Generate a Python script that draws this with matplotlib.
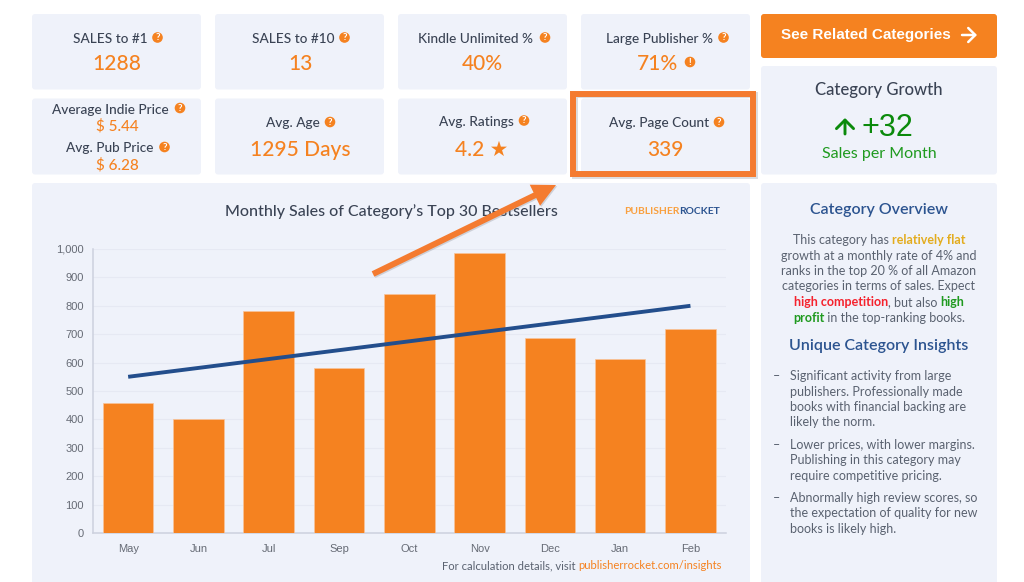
import matplotlib
matplotlib.use('Agg')
import matplotlib.pyplot as plt
from matplotlib.patches import Circle, FancyArrowPatch, FancyBboxPatch, Rectangle

plt.rcParams['font.family'] = ['Lato', 'DejaVu Sans']

months = ['May', 'Jun', 'Jul', 'Sep', 'Oct', 'Nov', 'Dec', 'Jan', 'Feb']
sales = [457, 402, 783, 580, 842, 985, 686, 611, 720]
trend_pos = [0, 8]
trend_sales = [550, 800]
y_ticks = [0, 100, 200, 300, 400, 500, 600, 700, 800, 900, 1000]

ORANGE = '#F58220'
HILITE = '#F47B30'
CARD = '#EFF2FA'
DARK = '#3A4354'
GRAY = '#5A6270'
BLUE = '#2C5490'
NAVY = '#234E8C'
GREEN = '#1F9A1F'

fig = plt.figure(figsize=(10.24, 5.82), dpi=100, facecolor='white')
bg = fig.add_axes([0, 0, 1, 1], zorder=0)
bg.set_xlim(0, 1024)
bg.set_ylim(582, 0)
bg.axis('off')
top = fig.add_axes([0, 0, 1, 1], zorder=2)
top.set_xlim(0, 1024)
top.set_ylim(582, 0)
top.axis('off')
renderer = fig.canvas.get_renderer()


def card(x0, y0, x1, y1, color=CARD):
    bg.add_patch(FancyBboxPatch((x0 + 3, y0 + 3), x1 - x0 - 6, y1 - y0 - 6,
                                boxstyle='round,pad=3,rounding_size=3', fc=color, ec='none'))


def icon(x, y, mark='?'):
    bg.add_patch(Circle((x, y), 5.3, fc=ORANGE, ec='none', zorder=3))
    bg.text(x, y + 0.3, mark, color='white', fontsize=7, fontweight='bold',
            ha='center', va='center', zorder=4)


def label(x, y, s):
    bg.text(x, y + 1, s, color=DARK, fontsize=9.8, fontweight='medium', ha='center', va='center')


def value(x, y, s, size=15):
    bg.text(x, y + 1.5, s, color=ORANGE, fontsize=size, fontweight='medium', ha='center', va='center')


def seg_width(s, **kw):
    a = bg.text(0, 0, '.' + s + '.', **kw)
    b = bg.text(0, 0, '..', **kw)
    w = a.get_window_extent(renderer).width - b.get_window_extent(renderer).width
    a.remove()
    b.remove()
    return w


def mixed_line(y, segments, size=9, center=None, right=None, **kw):
    # segments are (text, colour, weight); centred or right aligned as a whole
    widths = [seg_width(s, fontsize=size, fontweight=w, **kw) for s, c, w in segments]
    if center is not None:
        x = center - sum(widths) / 2
    else:
        x = right - sum(widths)
    for (s, c, w), width in zip(segments, widths):
        bg.text(x, y + 1, s, color=c, fontsize=size, fontweight=w, ha='left', va='center', **kw)
        x += width


# stat cards
for x0, x1 in [(32, 201), (215, 384), (398, 567), (581, 750)]:
    card(x0, 14, x1, 89.5)
    card(x0, 98.5, x1, 174.5)
card(761, 66, 997, 174.5)
card(32, 183, 750, 590)
card(761, 183, 997, 590)
card(761, 14, 997, 58, color=ORANGE)

label(110, 38, 'SALES to #1')
value(117, 63, '1288')
icon(157.5, 37.5)
label(293, 38, 'SALES to #10')
value(300, 63, '13')
icon(344.5, 37.5)
label(476, 38, 'Kindle Unlimited %')
value(482, 63, '40%')
icon(545, 37.5)
label(659, 38, 'Large Publisher %')
value(658, 63, '71%')
icon(690, 62, '!')
icon(723.5, 37.5)

label(110, 108.5, 'Average Indie Price')
value(117, 125, '$ 5.44', size=11)
icon(180, 108)
label(110, 147.5, 'Avg. Pub Price')
value(117, 164, '$ 6.28', size=11)
icon(164.5, 147)
label(293, 122, 'Avg. Age')
value(300, 148, '1295 Days')
icon(330, 122)
label(476.5, 121, 'Avg. Ratings')
value(482, 148, '4.2 ★')
icon(524, 120.5)
label(659, 122, 'Avg. Page Count')
value(665, 148, '339')
icon(719, 122)

# button
bg.text(866, 35, 'See Related Categories', color='white', fontsize=11, fontweight='bold',
        family='Liberation Sans', ha='center', va='center')
bg.add_patch(FancyArrowPatch((962, 35), (977, 35), arrowstyle='->,head_length=3.6,head_width=3.6',
                             color='white', lw=1.8, mutation_scale=1.4, shrinkA=0, shrinkB=0))

# growth card
bg.text(879, 90, 'Category Growth', color=DARK, fontsize=12, fontweight='medium', ha='center', va='center')
bg.add_patch(FancyArrowPatch((845, 134), (845, 118), arrowstyle='->,head_length=4.4,head_width=4.4',
                             color='#0B8A0B', lw=2.1, mutation_scale=1.4, shrinkA=0, shrinkB=0))
bg.text(887, 128, '+32', color='#0B8A0B', fontsize=22, family='Liberation Sans',
        ha='center', va='center')
bg.text(879, 154, 'Sales per Month', color=GREEN, fontsize=11.5, ha='center', va='center')

# chart card
bg.text(391, 212, 'Monthly Sales of Category’s Top 30 Bestsellers', color=DARK, fontsize=11.5,
        fontweight='medium', ha='center', va='center')
mixed_line(210.5, [('PUBLISHER', '#F9A03F', 'bold'), ('ROCKET', BLUE, 'bold')], size=7.4, right=720)
mixed_line(564.5, [('For calculation details, visit ', GRAY, 'normal'),
                   ('publisherrocket.com/insights', ORANGE, 'normal')], size=8.15, right=722)

ax = fig.add_axes([93 / 1024, 1 - 533 / 582, (725.6 - 93) / 1024, (533 - 249) / 582], zorder=1)
ax.patch.set_alpha(0)
ax.bar(range(len(months)), sales, width=0.72, color=ORANGE, edgecolor='#F9C49A', linewidth=0.5, zorder=3)
ax.plot(trend_pos, trend_sales, color=NAVY, lw=2.8, solid_capstyle='butt', zorder=4)
ax.set_xlim(-0.5, len(months) - 0.5)
ax.set_ylim(0, 1000)
ax.set_xticks(range(len(months)))
ax.set_xticklabels(months)
ax.set_yticks(y_ticks)
ax.set_yticklabels([f'{t:,}' for t in y_ticks])
ax.tick_params(length=0, labelsize=8, labelcolor='#666B75', labelfontfamily='Liberation Sans')
ax.tick_params(axis='x', pad=8)
ax.tick_params(axis='y', pad=6.5)
ax.grid(axis='y', color='#E6E9F3', lw=0.8, zorder=0)
for side in ['top', 'right']:
    ax.spines[side].set_visible(False)
for side in ['left', 'bottom']:
    ax.spines[side].set_color('#CDD1DE')
    ax.spines[side].set_linewidth(1.1)

# overview card
bg.text(879, 210, 'Category Overview', color=BLUE, fontsize=11.5, fontweight='semibold',
        ha='center', va='center')
mixed_line(239.5, [('This category has ', GRAY, 'normal'), ('relatively flat', '#E3AC1E', 'bold')], center=879)
mixed_line(255, [('growth at a monthly rate of 4% and', GRAY, 'normal')], center=879)
mixed_line(270, [('ranks in the top 20 % of all Amazon', GRAY, 'normal')], center=879)
mixed_line(285.5, [('categories in terms of sales. Expect', GRAY, 'normal')], center=879)
mixed_line(301, [('high competition', '#F5222D', 'bold'), (', but also ', GRAY, 'normal'),
                 ('high', '#1F9A1F', 'bold')], center=879)
mixed_line(316.5, [('profit', '#1F9A1F', 'bold'), (' in the top-ranking books.', GRAY, 'normal')], center=879)
bg.text(879, 346, 'Unique Category Insights', color=BLUE, fontsize=11.5, fontweight='semibold',
        ha='center', va='center')

insights = [
    (376.5, ['Significant activity from large', 'publishers. Professionally made',
             'books with financial backing are', 'likely the norm.']),
    (445, ['Lower prices, with lower margins.', 'Publishing in this category may',
           'require competitive pricing.']),
    (498, ['Abnormally high review scores, so', 'the expectation of quality for new',
           'books is likely high.']),
]
for y, lines in insights:
    bg.text(776, y, '–', color=GRAY, fontsize=9, ha='center', va='center')
    for i, line in enumerate(lines):
        bg.text(790, y + i * 15.3, line, color=GRAY, fontsize=9, ha='left', va='center')

# highlight box and arrow on top
top.add_patch(Rectangle((574.5, 95), 180, 80.5, fc='none', ec='#8A8F99', lw=4.3, alpha=0.3, joinstyle='miter'))
top.add_patch(Rectangle((573, 93.5), 180, 80.5, fc='none', ec=HILITE, lw=4.3, joinstyle='miter'))
for dx, color, alpha in [(1.2, '#80848C', 0.3), (0, HILITE, 1)]:
    top.add_patch(FancyArrowPatch((373 + dx, 274 + dx), (556 + dx, 185 + dx),
                                  arrowstyle='simple,head_length=1.3,head_width=1.3,tail_width=0.33',
                                  mutation_scale=13, fc=color, ec='none', alpha=alpha,
                                  shrinkA=0, shrinkB=0))

fig.savefig('out.png', dpi=100)
